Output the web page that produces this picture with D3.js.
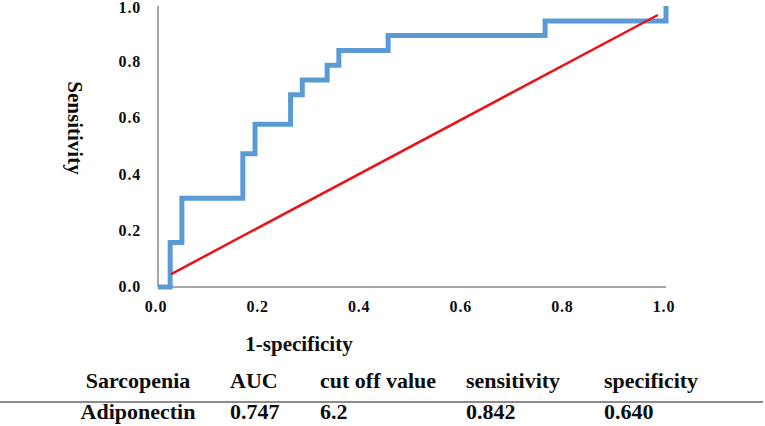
<!DOCTYPE html>
<html>
<head>
<meta charset="utf-8">
<script src="https://cdn.jsdelivr.net/npm/d3@7"></script>
<style>
  body { margin: 0; background: #fff; }
  text { font-family: "Liberation Serif", "Times New Roman", serif; font-weight: bold; fill: #0d0d0d; }
</style>
</head>
<body>
<script>
const w = 765;
const h = 426;

// ROC curve points (1-specificity, sensitivity), drawn as steps
var fpr  = [0, 0.024, 0.047, 0.167, 0.191, 0.261, 0.284, 0.333, 0.356, 0.453, 0.762, 1.0];
var sens = [0, 0.158, 0.316, 0.474, 0.579, 0.684, 0.737, 0.789, 0.842, 0.895, 0.947, 1.0];

// reference line
var refX = [0.026, 0.984];
var refY = [0.046, 0.968];

var ticks = [0, 0.2, 0.4, 0.6, 0.8, 1.0];

var tableHead = ["Sarcopenia", "AUC", "cut off value", "sensitivity", "specificity"];
var tableRow  = ["Adiponectin", "0.747", "6.2", "0.842", "0.640"];

const svg = d3.select("body")
              .append("svg")
              .attr("width", w)
              .attr("height", h);

const x = d3.scaleLinear().domain([0, 1]).range([158, 666]);
const y = d3.scaleLinear().domain([0, 1]).range([287, 6]);

// axes lines
svg.append("line")
   .attr("x1", x(0)).attr("x2", x(0))
   .attr("y1", y(0)).attr("y2", y(1))
   .style("stroke", "#a6a6a6").style("stroke-width", 2);
svg.append("line")
   .attr("x1", x(0)).attr("x2", x(1))
   .attr("y1", y(0)).attr("y2", y(0))
   .style("stroke", "#a6a6a6").style("stroke-width", 2);

// tick labels
svg.selectAll("text.ytick")
   .data(ticks)
   .enter()
   .append("text")
   .attr("class", "ytick")
   .attr("x", 141)
   .attr("y", (d) => Math.max(y(d) + 5, 13))
   .attr("text-anchor", "end")
   .style("font-size", "16px")
   .style("letter-spacing", "0.8px")
   .text((d) => d.toFixed(1));

svg.selectAll("text.xtick")
   .data(ticks)
   .enter()
   .append("text")
   .attr("class", "xtick")
   .attr("x", (d) => x(d) - 2)
   .attr("y", 312)
   .attr("text-anchor", "middle")
   .style("font-size", "16px")
   .style("letter-spacing", "0.8px")
   .text((d) => d.toFixed(1));

// ROC step curve
var pts = fpr.map((d, i) => [d, sens[i]]);
const step = d3.line()
   .x((d) => x(d[0]))
   .y((d) => y(d[1]))
   .curve(d3.curveStepAfter);

svg.append("path")
   .attr("d", step(pts))
   .style("fill", "none")
   .style("stroke", "#5b9bd5")
   .style("stroke-width", 5);

// red reference line
svg.append("line")
   .attr("x1", x(refX[0])).attr("y1", y(refY[0]))
   .attr("x2", x(refX[1])).attr("y2", y(refY[1]))
   .style("stroke", "#e8141c")
   .style("stroke-width", 2.5);

// axis titles
svg.append("text")
   .attr("transform", "translate(68,128) rotate(90)")
   .attr("text-anchor", "middle")
   .style("font-size", "21px")
   .text("Sensitivity");

svg.append("text")
   .attr("x", 299)
   .attr("y", 351)
   .attr("text-anchor", "middle")
   .style("font-size", "21px")
   .text("1-specificity");

// table below
var colX = [138, 230, 320, 466, 604];

svg.selectAll("text.head")
   .data(tableHead)
   .enter()
   .append("text")
   .attr("class", "head")
   .attr("x", (d, i) => colX[i])
   .attr("y", 388)
   .attr("text-anchor", (d, i) => i == 0 ? "middle" : "start")
   .style("font-size", "22px")
   .text((d) => d);

svg.append("line")
   .attr("x1", 0).attr("x2", 763)
   .attr("y1", 402).attr("y2", 402)
   .style("stroke", "#8c8c8c").style("stroke-width", 2);

svg.selectAll("text.row")
   .data(tableRow)
   .enter()
   .append("text")
   .attr("class", "row")
   .attr("x", (d, i) => colX[i])
   .attr("y", 419)
   .attr("text-anchor", (d, i) => i == 0 ? "middle" : "start")
   .style("font-size", "22px")
   .text((d) => d);
</script>
</body>
</html>
